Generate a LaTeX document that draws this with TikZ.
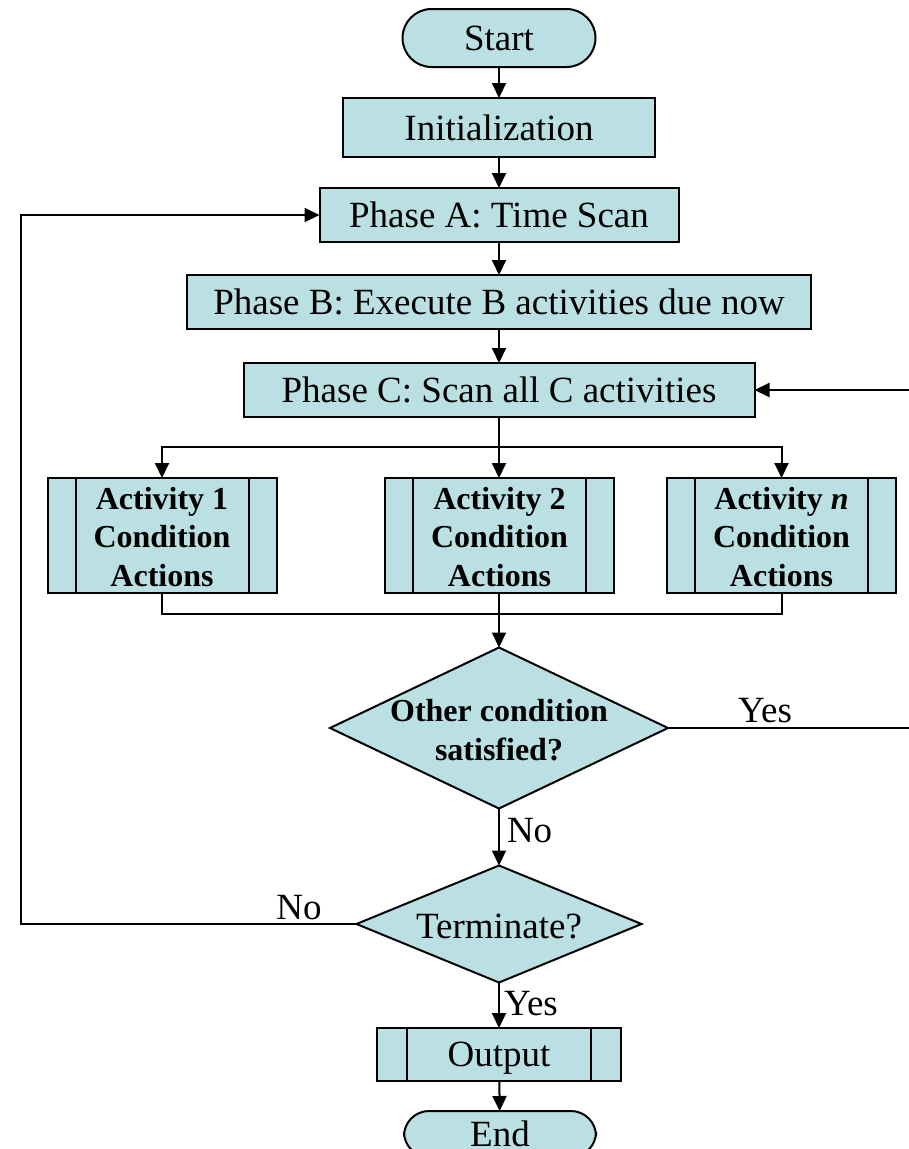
\documentclass[tikz,border=0pt]{standalone}
\usepackage{fontspec}
\setmainfont{Liberation Serif}
\usetikzlibrary{shapes.geometric,arrows.meta}
\definecolor{boxfill}{RGB}{187,224,227}
\tikzset{
  every node/.style={inner sep=0pt, outer sep=0pt},
  base/.style={draw, fill=boxfill, line width=2pt},
  txt/.style={font=\fontsize{37}{44}\selectfont},
  bld/.style={font=\fontsize{32}{38.5}\selectfont\bfseries, align=center},
  terminal/.style={base, txt, rectangle, rounded corners=25pt, minimum width=193pt, minimum height=58pt},
  procbox/.style={base, txt, rectangle, minimum height=54pt},
  predef/.style={base, rectangle},
  decision/.style={base, diamond},
  line/.style={line width=2pt},
  arr/.style={line, -{Triangle[length=15pt,width=14pt]}},
}
\begin{document}
\begin{tikzpicture}[x=1pt, y=-1pt]
\useasboundingbox (0,0) rectangle (908,1149);

% main column
\node[terminal, rounded corners=29pt] (start) at (499,38) {Start};
\node[procbox, minimum width=312pt, minimum height=59pt] (init) at (499,127.5) {Initialization};
\node[procbox, minimum width=359pt] (pha) at (499,215) {Phase A: Time Scan};
\node[procbox, minimum width=624pt] (phb) at (499,302) {Phase B: Execute B activities due now};
\node[procbox, minimum width=511pt] (phc) at (499,390) {Phase C: Scan all C activities};

% C activities
\node[predef, minimum width=229pt, minimum height=115pt] (a1) at (162,535.5) {};
\node[predef, minimum width=229pt, minimum height=115pt] (a2) at (499.5,535.5) {};
\node[predef, minimum width=229pt, minimum height=115pt] (a3) at (781.5,535.5) {};
\foreach \n in {a1,a2,a3}{
  \draw[line] ([xshift=28pt]\n.north west) -- ([xshift=28pt]\n.south west);
  \draw[line] ([xshift=-28pt]\n.north east) -- ([xshift=-28pt]\n.south east);
}
\node[bld] (a1t) at (162,537) {Activity 1\\Condition\\Actions};
\node[bld] (a2t) at (499.5,537) {Activity 2\\Condition\\Actions};
\node[bld] (a3t) at (781.5,537) {Activity \textit{n}\\Condition\\Actions};

% decisions
\node[decision, minimum width=338pt, minimum height=161pt] (d1) at (499,728) {};
\node[bld] (d1t) at (499,730) {Other condition\\satisfied?};
\node[decision, minimum width=285pt, minimum height=117pt] (d2) at (499,924) {};
\node[txt] (d2t) at (499,927) {Terminate?};

% output and end
\node[predef, txt, text depth=0pt, minimum width=244pt, minimum height=53pt] (out) at (499,1054.5) {Output};
\draw[line] ([xshift=30pt]out.north west) -- ([xshift=30pt]out.south west);
\draw[line] ([xshift=-30pt]out.north east) -- ([xshift=-30pt]out.south east);
\node[terminal, minimum width=192pt, minimum height=46pt] (end) at (500,1134) {End};

% connectors
\draw[arr] (start) -- (init);
\draw[arr] (init) -- (pha);
\draw[arr] (pha) -- (phb);
\draw[arr] (phb.south) -- (phb.south |- phc.north);

\coordinate (bus) at (499,447);
\draw[line] (phc.south) -- (bus);
\draw[arr] (bus) -| (a1.north);
\draw[arr] (bus) -| (a3.north);
\draw[arr] (bus) -- (bus |- a2.north);

\coordinate (merge) at (499,614);
\draw[line] (a1.south) |- (merge);
\draw[line] (a3.south) |- (merge);
\draw[line] (a2.south -| merge) -- (merge);
\draw[arr] (merge) -- (d1.north);

\coordinate (rc) at (912,728);
\draw[arr] (d1.east) -- (rc) |- (phc.east);
\draw[arr] (d1.south) -- (d2.north);

\coordinate (lc) at (21,924);
\draw[arr] (d2.west) -- (lc) |- (pha.west);
\draw[arr] (d2.south) -- (out.north);
\draw[arr] (out) -- (end);

% branch labels
\node[txt, anchor=base] (yes1) at (765,722) {Yes};
\node[txt, anchor=base west] (no1) at (507,842) {No};
\node[txt, anchor=base] (no2) at (299,919) {No};
\node[txt, anchor=base west] (yes2) at (504,1015) {Yes};
\end{tikzpicture}
\end{document}
